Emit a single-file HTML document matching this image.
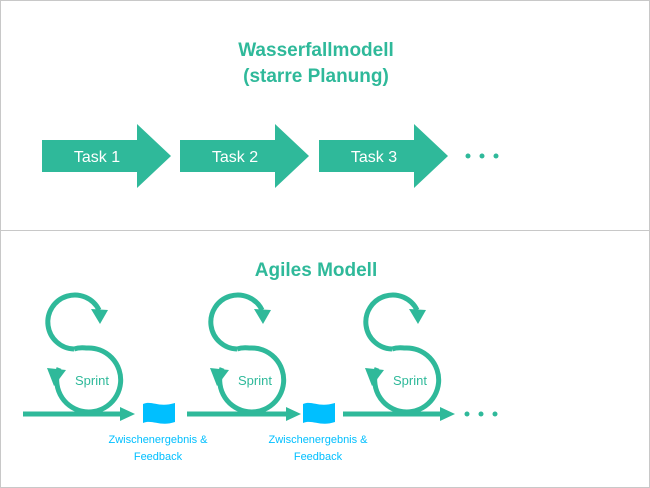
<!DOCTYPE html>
<html><head><style>
body{margin:0;background:#fff}
svg{display:block}
text{font-family:"Liberation Sans",sans-serif}
</style></head><body>
<svg width="650" height="488" viewBox="0 0 650 488">
<rect x="0.5" y="0.5" width="649" height="487" fill="#fff" stroke="#c8c8c8"/>
<line x1="0" y1="230.5" x2="650" y2="230.5" stroke="#c8c8c8"/>
<g fill="#2fb99a" font-weight="bold" text-anchor="middle" font-size="19">
<text x="316" y="56">Wasserfallmodell</text>
<text x="316" y="82">(starre Planung)</text>
<text x="316" y="276">Agiles Modell</text>
</g>
<defs>
<g id="task"><polygon points="0,140 95,140 95,124 129,156 95,188 95,172 0,172" fill="#2fb99a"/></g>
<g id="sprint" fill="none" stroke="#2fb99a" stroke-width="5">
<path d="M74,349 A27,27 0 1 1 99,310"/>
<polygon points="91,309 108,310 100,324" fill="#2fb99a" stroke="none"/>
<path d="M74,349 C80,347 84,348 87,348 A32,32 0 1 1 59,368"/>
<polygon points="47,368 66,370 54,386" fill="#2fb99a" stroke="none"/>
<text x="92" y="385" font-size="13" fill="#2fb99a" stroke="none" text-anchor="middle">Sprint</text>
</g>
<g id="flag"><path d="M143,404 C152,400 158,408 175,403 L175,422 C160,427 152,419 143,423 Z" fill="#00bfff"/></g>
</defs>
<use href="#task" x="42"/><use href="#task" x="180"/><use href="#task" x="319"/>
<g fill="#fff" font-size="16" text-anchor="middle">
<text x="97" y="162">Task 1</text><text x="235" y="162">Task 2</text><text x="374" y="162">Task 3</text>
</g>
<g fill="#2fb99a"><circle cx="468" cy="156" r="2.5"/><circle cx="482" cy="156" r="2.5"/><circle cx="496" cy="156" r="2.5"/>
<circle cx="467" cy="414" r="2.5"/><circle cx="481" cy="414" r="2.5"/><circle cx="495" cy="414" r="2.5"/></g>
<use href="#sprint"/><use href="#sprint" x="163"/><use href="#sprint" x="318"/>
<g stroke="#2fb99a" stroke-width="5"><line x1="23" y1="414" x2="122" y2="414"/><line x1="187" y1="414" x2="288" y2="414"/><line x1="343" y1="414" x2="442" y2="414"/></g>
<g fill="#2fb99a"><polygon points="120,407 135,414 120,421"/><polygon points="286,407 301,414 286,421"/><polygon points="440,407 455,414 440,421"/></g>
<use href="#flag"/><use href="#flag" x="160"/>
<g fill="#00bfff" font-size="11" text-anchor="middle">
<text x="158" y="443">Zwischenergebnis &amp;</text><text x="158" y="460">Feedback</text>
<text x="318" y="443">Zwischenergebnis &amp;</text><text x="318" y="460">Feedback</text>
</g>
</svg>
</body></html>
